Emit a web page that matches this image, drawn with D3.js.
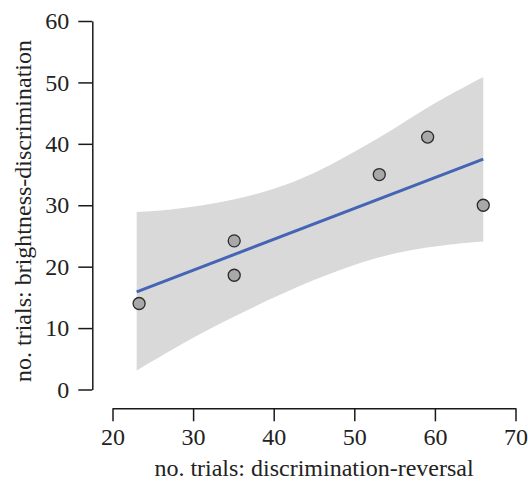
<!DOCTYPE html>
<html>
<head>
<meta charset="utf-8">
<script src="https://cdn.jsdelivr.net/npm/d3@7"></script>
<style>
  body { margin: 0; background: #fff; }
  .axis path, .axis line { stroke: #1a1a1a; stroke-width: 1.5px; }
</style>
</head>
<body>
<div id="chart"></div>
<script>
// Puntos observados
const trialsReversal = [23.3, 35.1, 35.1, 53.1, 59.1, 66.0];
const trialsBrightness = [14.0, 24.2, 18.6, 35.0, 41.1, 30.0];

// Recta ajustada
const fitX = [23, 66];
const fitY = [15.9, 37.5];

// Banda de confianza
const bandX = [23, 27, 31, 35, 39, 43, 47, 51, 55, 59, 63, 66];
const bandLow = [3.1, 6.2, 9.2, 11.8, 14.4, 16.8, 18.9, 20.8, 22.2, 23.2, 23.8, 24.1];
const bandHigh = [28.9, 29.2, 29.9, 30.9, 32.2, 34.0, 36.5, 39.4, 42.5, 45.9, 48.8, 50.9];

// Ticks
const xTicks = [20, 30, 40, 50, 60, 70];
const yTicks = [0, 10, 20, 30, 40, 50, 60];

const width = 528, height = 483;
const serif = 'Liberation Serif';

const svg = d3.select('#chart')
    .append('svg')
    .attr('width', width)
    .attr('height', height);

const x = d3.scaleLinear().domain([20, 70]).range([112.5, 515.5]);
const y = d3.scaleLinear().domain([0, 60]).range([389.5, 21]);

// Banda
const area = d3.area()
    .x(d => x(d.x))
    .y0(d => y(d.lo))
    .y1(d => y(d.hi))
    .curve(d3.curveBasis);

svg.append('path')
    .datum(bandX.map((v, i) => ({x: v, lo: bandLow[i], hi: bandHigh[i]})))
    .attr('fill', '#d9d9d9')
    .attr('d', area);

// Recta
const line = d3.line()
    .x(d => x(d[0]))
    .y(d => y(d[1]));

svg.append('path')
    .datum(fitX.map((v, i) => [v, fitY[i]]))
    .attr('fill', 'none')
    .attr('stroke', '#4564b5')
    .attr('stroke-width', 3)
    .attr('d', line);

// Puntos
svg.selectAll('.pt')
    .data(trialsReversal.map((v, i) => [v, trialsBrightness[i]]))
    .enter()
    .append('circle')
    .attr('class', 'pt')
    .attr('cx', d => x(d[0]))
    .attr('cy', d => y(d[1]))
    .attr('r', 6)
    .attr('fill', '#a8a8a8')
    .attr('stroke', '#2b2b2b')
    .attr('stroke-width', 1.3);

// Ejes separados
svg.append('g')
    .attr('class', 'axis')
    .attr('transform', 'translate(0,408.3)')
    .call(d3.axisBottom(x).tickValues(xTicks).tickSize(13).tickSizeOuter(0).tickPadding(7));

svg.append('g')
    .attr('class', 'axis')
    .attr('transform', 'translate(92.3,0)')
    .call(d3.axisLeft(y).tickValues(yTicks).tickSize(14).tickSizeOuter(0).tickPadding(9));

svg.selectAll('.axis')
    .attr('font-family', serif)
    .attr('font-size', 24);
svg.selectAll('.axis text').attr('fill', '#222');

// Títulos
svg.append('text')
    .attr('x', 314)
    .attr('y', 476)
    .attr('text-anchor', 'middle')
    .attr('font-family', serif)
    .attr('font-size', 24)
    .attr('fill', '#222')
    .text('no. trials: discrimination-reversal');

svg.append('text')
    .attr('transform', 'translate(31,211) rotate(-90)')
    .attr('text-anchor', 'middle')
    .attr('font-family', serif)
    .attr('font-size', 24)
    .attr('fill', '#222')
    .text('no. trials: brightness-discrimination');
</script>
</body>
</html>
